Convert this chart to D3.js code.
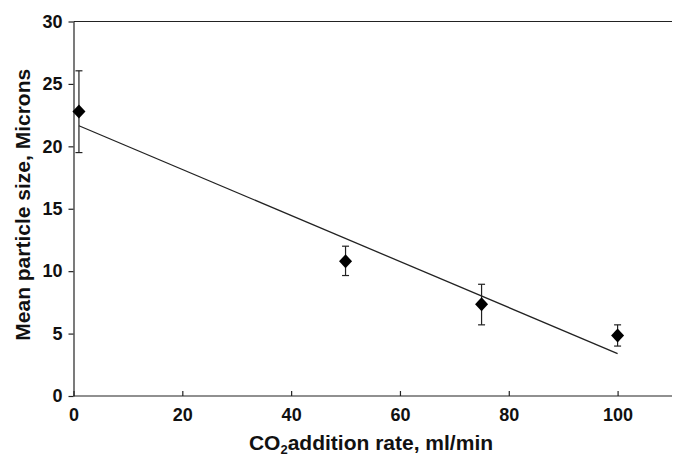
<!DOCTYPE html>
<html>
<head>
<meta charset="utf-8">
<script src="https://cdn.jsdelivr.net/npm/d3@7"></script>
<style>
  body { margin: 0; background: #fff; }
  svg text { font-family: "Liberation Sans", Arial, sans-serif; font-weight: bold; fill: #111; }
</style>
</head>
<body>
<div id="chart"></div>
<script>
    // data
    var rateX = [1, 50, 75, 100];
    var sizeY = [22.8, 10.8, 7.35, 4.85];
    var errLow = [19.5, 9.65, 5.7, 4.0];
    var errHigh = [26.05, 12.0, 8.95, 5.7];
    var trendX = [1, 100];
    var trendY = [21.65, 3.4];
    var xTicks = [0, 20, 40, 60, 80, 100];
    var yTicks = [0, 5, 10, 15, 20, 25, 30];

    var width = 674, height = 460;
    var margin = {left: 73.5, right: 2, top: 21.5, bottom: 64};

    var svg = d3.select("#chart").append("svg").attr("width", width).attr("height", height);

    var x = d3.scaleLinear().domain([0, 110]).range([margin.left, width - margin.right]);
    var y = d3.scaleLinear().domain([0, 30]).range([height - margin.bottom, margin.top]);

    // top border line
    svg.append("line").attr("x1", x(0)).attr("x2", x(110)).attr("y1", y(30)).attr("y2", y(30))
        .attr("stroke", "#222").attr("stroke-width", 1.2);

    var xAxis = svg.append("g").attr("transform", "translate(0," + y(0) + ")")
        .call(d3.axisBottom(x).tickValues(xTicks).tickSizeInner(-5).tickSizeOuter(0).tickPadding(12));
    var yAxis = svg.append("g").attr("transform", "translate(" + x(0) + ",0)")
        .call(d3.axisLeft(y).tickValues(yTicks).tickSizeInner(5).tickSizeOuter(0).tickPadding(6));

    [xAxis, yAxis].forEach(function(g) {
        g.selectAll("path, line").attr("stroke", "#222").attr("stroke-width", 1.2);
        g.selectAll("text").style("font-size", "18px").style("font-family", "'Liberation Sans', Arial, sans-serif")
            .style("font-weight", "bold").attr("fill", "#111");
    });
    xAxis.select(".domain").attr("d", "M" + x(0) + ",0H" + x(110));

    // axis titles
    var xTitle = svg.append("text").attr("x", 371).attr("y", 450).attr("text-anchor", "middle")
        .style("font-size", "21px");
    xTitle.append("tspan").text("CO");
    xTitle.append("tspan").text("2").style("font-size", "13px").attr("dy", 4);
    xTitle.append("tspan").text("addition rate, ml/min").attr("dy", -4);

    svg.append("text").attr("transform", "translate(30," + ((y(0) + y(30)) / 2 - 4) + ") rotate(-90)")
        .attr("text-anchor", "middle").style("font-size", "21px")
        .text("Mean particle size, Microns");

    // trend line
    svg.append("line").attr("x1", x(trendX[0])).attr("y1", y(trendY[0]))
        .attr("x2", x(trendX[1])).attr("y2", y(trendY[1]))
        .attr("stroke", "#222").attr("stroke-width", 1.3);

    // error bars
    var idx = d3.range(rateX.length);
    var bars = svg.append("g").selectAll("g").data(idx).enter().append("g");
    bars.append("line").attr("x1", function(i){return x(rateX[i]);}).attr("x2", function(i){return x(rateX[i]);})
        .attr("y1", function(i){return y(errLow[i]);}).attr("y2", function(i){return y(errHigh[i]);});
    bars.append("line").attr("x1", function(i){return x(rateX[i]) - 3.5;}).attr("x2", function(i){return x(rateX[i]) + 3.5;})
        .attr("y1", function(i){return y(errLow[i]);}).attr("y2", function(i){return y(errLow[i]);});
    bars.append("line").attr("x1", function(i){return x(rateX[i]) - 3.5;}).attr("x2", function(i){return x(rateX[i]) + 3.5;})
        .attr("y1", function(i){return y(errHigh[i]);}).attr("y2", function(i){return y(errHigh[i]);});
    bars.selectAll("line").attr("stroke", "#222").attr("stroke-width", 1.2);

    // diamonds
    svg.append("g").selectAll("path").data(idx).enter().append("path")
        .attr("d", "M0,-7L6.5,0L0,7L-6.5,0Z")
        .attr("transform", function(i){return "translate(" + x(rateX[i]) + "," + y(sizeY[i]) + ")";})
        .attr("fill", "#000");
</script>
</body>
</html>
